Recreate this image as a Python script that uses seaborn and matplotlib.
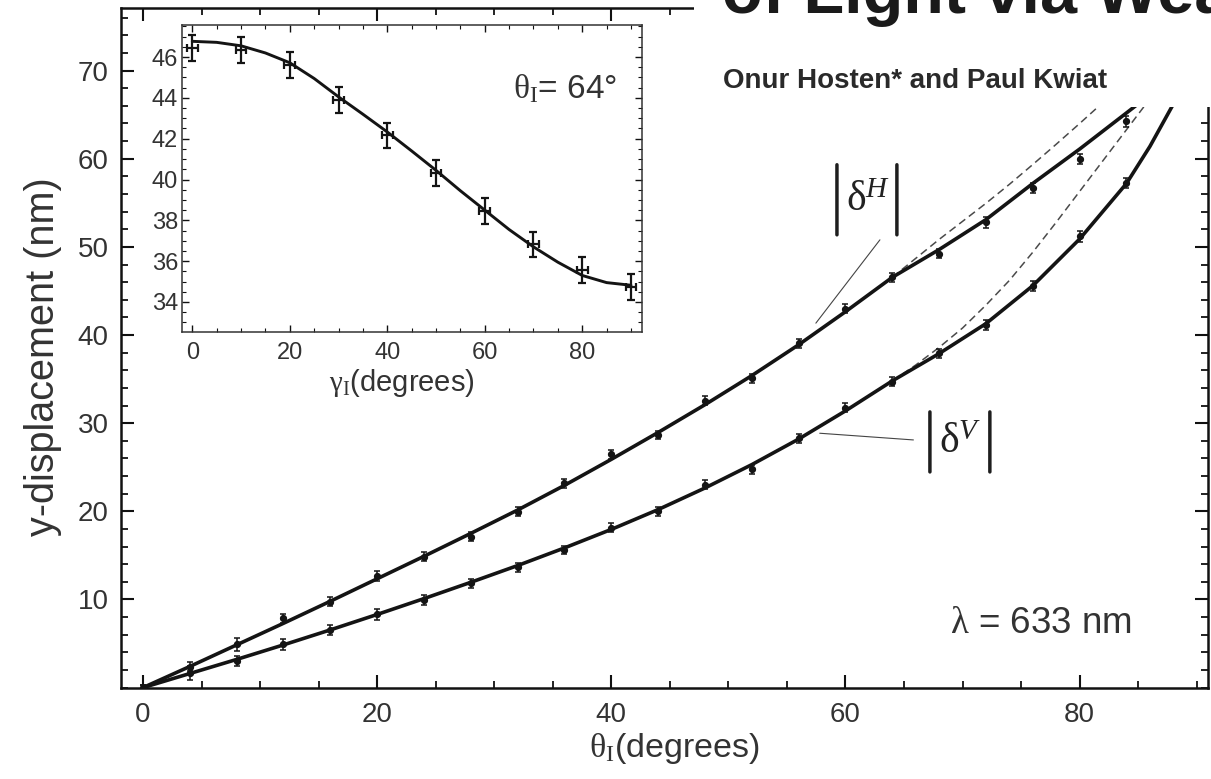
import matplotlib
matplotlib.use("Agg")
import matplotlib.pyplot as plt
from matplotlib.ticker import MultipleLocator, FixedLocator
from matplotlib.patches import Rectangle
import pandas as pd
import seaborn as sns

# ---- main panel: measured y-displacements (nm) vs. incidence angle ----
theta = [0, 4, 8, 12, 16, 20, 24, 28, 32, 36, 40, 44, 48, 52, 56, 60, 64, 68, 72, 76, 80, 84]
delta_H = [0.0, 2.37, 4.91, 7.87, 9.75, 12.67, 14.86, 17.13, 19.97, 23.19, 26.48, 28.67,
           32.57, 35.11, 39.08, 42.97, 46.53, 49.22, 52.77, 56.67, 59.97, 64.23]
delta_H_err = [0.3, 0.5, 0.7, 0.5, 0.5, 0.6, 0.5, 0.5, 0.5, 0.5, 0.5, 0.5,
               0.5, 0.5, 0.5, 0.5, 0.5, 0.5, 0.6, 0.6, 0.6, 0.6]
delta_V = [0.0, 1.62, 3.02, 4.91, 6.54, 8.32, 9.94, 11.84, 13.66, 15.62, 18.15, 20.0,
           23.0, 24.78, 28.3, 31.77, 34.72, 37.95, 41.16, 45.58, 51.18, 57.24]
delta_V_err = [0.3, 0.8, 0.6, 0.6, 0.6, 0.6, 0.6, 0.5, 0.5, 0.5, 0.5, 0.5,
               0.5, 0.5, 0.5, 0.5, 0.5, 0.5, 0.6, 0.6, 0.6, 0.6]

# theory curves including the correction
fit_theta_H = [0, 4, 8, 12, 16, 20, 24, 28, 32, 36, 40, 44, 48, 52, 56, 60, 64, 68, 72, 76, 80, 84, 87]
fit_H = [0.0, 2.4, 4.85, 7.3, 9.8, 12.35, 14.9, 17.5, 20.15, 22.95, 25.9, 28.95, 32.1, 35.4,
         38.9, 42.65, 46.55, 49.7, 53.1, 57.2, 61.1, 65.2, 68.3]
fit_theta_V = [0, 4, 8, 12, 16, 20, 24, 28, 32, 36, 40, 44, 48, 52, 56, 60, 64, 68, 72, 76, 80, 84, 86, 88]
fit_V = [0.0, 1.6, 3.2, 4.85, 6.55, 8.3, 10.1, 11.95, 13.85, 15.85, 17.95, 20.2, 22.65, 25.3,
         28.2, 31.4, 34.8, 37.9, 41.3, 45.6, 50.9, 57.2, 61.4, 66.2]

# theory curves without the correction (high-angle branch)
raw_theta_H = [64, 66, 68, 70, 72, 74, 76, 78, 80, 82, 84]
raw_H = [46.55, 48.7, 50.85, 52.9, 54.95, 57.1, 59.35, 61.65, 64.0, 66.4, 68.9]
raw_theta_V = [64, 66, 68, 70, 72, 74, 76, 78, 80, 82, 84, 86]
raw_V = [34.8, 36.6, 38.6, 40.8, 43.4, 46.2, 49.4, 52.8, 56.3, 59.8, 63.3, 66.8]

# ---- inset: displacement vs. polarization angle at theta_I = 64 deg ----
gamma = [0, 10, 20, 30, 40, 50, 60, 70, 80, 90]
gamma_disp = [46.44, 46.36, 45.62, 43.91, 42.16, 40.33, 38.46, 36.82, 35.58, 34.73]
gamma_disp_err = [0.63, 0.63, 0.63, 0.63, 0.63, 0.63, 0.63, 0.63, 0.63, 0.63]
gamma_err = [1.1, 1.1, 1.1, 1.1, 1.1, 1.1, 1.1, 1.1, 1.1, 1.1]
fit_gamma = [0, 5, 10, 15, 20, 25, 30, 35, 40, 45, 50, 55, 60, 65, 70, 75, 80, 85, 90]
fit_gamma_disp = [46.77, 46.72, 46.55, 46.2, 45.72, 44.95, 44.05, 43.2, 42.33, 41.4, 40.45,
                  39.45, 38.5, 37.55, 36.7, 35.95, 35.3, 34.95, 34.82]

sns.set_theme(style="ticks")
plt.rcParams.update({
    "font.family": ["Liberation Sans", "DejaVu Sans"],
    "mathtext.fontset": "custom",
    "mathtext.rm": "Liberation Serif",
    "mathtext.it": "Liberation Serif:italic",
    "mathtext.bf": "Liberation Serif:bold",
    "text.color": "#333333",
    "axes.labelcolor": "#333333",
    "xtick.color": "#111111",
    "ytick.color": "#111111",
    "xtick.labelcolor": "#333333",
    "ytick.labelcolor": "#333333",
    "axes.edgecolor": "#111111",
})

INK = "#141414"

fig = plt.figure(figsize=(12.11, 7.79), dpi=100)
ax = fig.add_axes([0.0999, 0.1173, 0.8980, 0.8724])

main_fit = pd.concat([
    pd.DataFrame({"theta": fit_theta_H, "disp": fit_H, "pol": "H"}),
    pd.DataFrame({"theta": fit_theta_V, "disp": fit_V, "pol": "V"}),
])
raw_fit = pd.concat([
    pd.DataFrame({"theta": raw_theta_H, "disp": raw_H, "pol": "H"}),
    pd.DataFrame({"theta": raw_theta_V, "disp": raw_V, "pol": "V"}),
])

sns.lineplot(data=raw_fit, x="theta", y="disp", units="pol", estimator=None, sort=False,
             color="#4a4a4a", lw=1.1, linestyle=(0, (5, 3)), ax=ax, zorder=2)
sns.lineplot(data=main_fit, x="theta", y="disp", units="pol", estimator=None, sort=False,
             color=INK, lw=2.6, ax=ax, zorder=3)

for vals, errs in ((delta_H, delta_H_err), (delta_V, delta_V_err)):
    ax.errorbar(theta, vals, yerr=errs, fmt="o", ms=4.2, color=INK, mec=INK,
                elinewidth=1.1, capsize=2.2, capthick=1.1, zorder=4)

ax.set_xlim(-1.88, 91.0)
ax.set_ylim(0, 77.1)
ax.xaxis.set_major_locator(FixedLocator([0, 20, 40, 60, 80]))
ax.xaxis.set_minor_locator(MultipleLocator(5))
ax.yaxis.set_major_locator(FixedLocator([10, 20, 30, 40, 50, 60, 70]))
ax.yaxis.set_minor_locator(MultipleLocator(2))
ax.tick_params(which="major", direction="in", length=9.5, width=1.5, top=True, right=True,
               labelsize=20)
ax.tick_params(which="minor", direction="in", length=5, width=1.3, top=True, right=True)
ax.tick_params(axis="x", which="major", pad=10)
ax.tick_params(axis="y", which="major", pad=9)
for sp in ax.spines.values():
    sp.set_linewidth(1.8)
    sp.set_visible(True)

ax.set_xlabel(r"$\mathrm{\theta_I}$(degrees)", fontsize=24.5)
ax.xaxis.set_label_coords(0.509, -0.0903)
ax.xaxis.label.set_va("center")
ax.set_ylabel("y-displacement (nm)", fontsize=28.5)
ax.yaxis.set_label_coords(-0.0717, 0.4865)
ax.yaxis.label.set_va("center")

# |delta^H| and |delta^V| labels with their pointer lines
bar_style = dict(arrowstyle="-", color="#1e1e1e", lw=2.5, shrinkA=0, shrinkB=0)
lead_style = dict(arrowstyle="-", color="#444444", lw=0.8, shrinkA=0, shrinkB=0)

ax.text(61.91, 55.3, r"$\mathrm{\delta}^{\mathit{H}}$", fontsize=30,
        ha="center", va="center", color="#222222")
for bx in (59.27, 64.39):
    ax.annotate("", xy=(bx, 59.32), xytext=(bx, 51.37), arrowprops=bar_style)
ax.annotate("", xy=(57.47, 41.35), xytext=(62.94, 50.8), arrowprops=lead_style)

ax.text(69.77, 27.9, r"$\mathrm{\delta}^{\mathit{V}}$", fontsize=30,
        ha="center", va="center", color="#222222")
for bx in (67.21, 72.33):
    ax.annotate("", xy=(bx, 31.28), xytext=(bx, 24.47), arrowprops=bar_style)
ax.annotate("", xy=(57.8, 28.86), xytext=(65.8, 28.1), arrowprops=lead_style)

ax.text(84.45, 6.2, r"$\mathrm{\lambda}$ = 633 nm", fontsize=26.5, ha="right", va="baseline")

# ---- inset ----
axin = fig.add_axes([0.15054, 0.57381, 0.37935, 0.3941])
axin.set_facecolor("white")
sns.lineplot(x=fit_gamma, y=fit_gamma_disp, estimator=None, sort=False, color=INK, lw=2.1,
             ax=axin, zorder=3)
axin.errorbar(gamma, gamma_disp, yerr=gamma_disp_err, xerr=gamma_err, fmt="none",
              ecolor=INK, elinewidth=1.6, capsize=2.6, capthick=1.6, zorder=4)
axin.set_xlim(-2.05, 92.2)
axin.set_ylim(32.53, 47.57)
axin.xaxis.set_major_locator(FixedLocator([0, 20, 40, 60, 80]))
axin.xaxis.set_minor_locator(MultipleLocator(5))
axin.yaxis.set_major_locator(FixedLocator([34, 36, 38, 40, 42, 44, 46]))
axin.yaxis.set_minor_locator(MultipleLocator(0.5))
axin.tick_params(which="major", direction="in", length=5, width=1.0, top=True, right=True,
                 labelsize=17)
axin.tick_params(which="minor", direction="in", length=3, width=0.8, top=True, right=True)
axin.tick_params(axis="x", which="major", pad=7)
axin.tick_params(axis="y", which="major", pad=3)
for sp in axin.spines.values():
    sp.set_linewidth(1.1)
    sp.set_color("#333333")
    sp.set_visible(True)
axin.set_xlabel(r"$\mathrm{\gamma_I}$(degrees)", fontsize=21)
axin.xaxis.set_label_coords(0.478, -0.166)
axin.xaxis.label.set_va("center")
axin.set_ylabel("")
axin.text(87.2, 44.0, r"$\mathrm{\theta_I}$= 64°", fontsize=24, ha="right", va="baseline")

# ---- journal header strip over the upper right ----
fig.add_artist(Rectangle((0.5731, 0.8626), 0.45, 0.2, transform=fig.transFigure,
                         facecolor="white", edgecolor="none", zorder=10))
fig.text(0.596, 0.9833, "of Light via Wea", fontsize=48, fontweight="bold",
         ha="left", va="baseline", color="#1a1a1a", zorder=11)
fig.text(0.597, 0.887, "Onur Hosten* and Paul Kwiat", fontsize=20, fontweight="bold",
         ha="left", va="baseline", color="#2a2a2a", zorder=11)

fig.savefig("out.png", dpi=100)
